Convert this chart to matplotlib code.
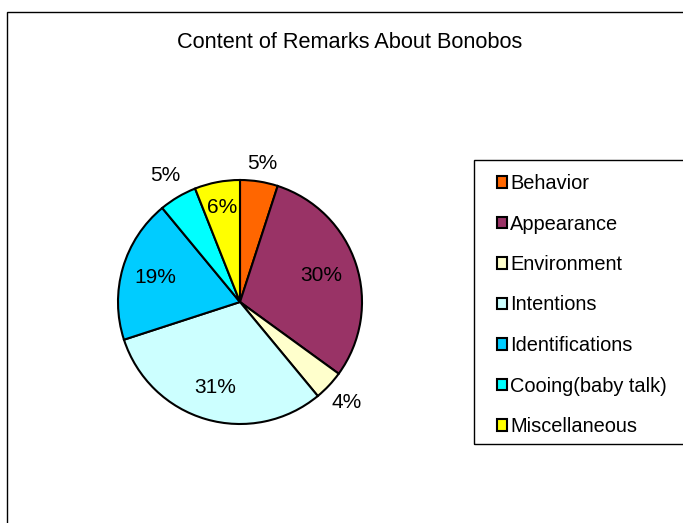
import numpy as np
import matplotlib
matplotlib.use("Agg")
import matplotlib.pyplot as plt
from matplotlib.patches import Patch, Rectangle

plt.rcParams['font.family'] = ['Liberation Sans', 'DejaVu Sans']

# Datos: contenido de los comentarios sobre bonobos (%)
categorias = ['Behavior', 'Appearance', 'Environment', 'Intentions',
              'Identifications', 'Cooing(baby talk)', 'Miscellaneous']
porcentajes = [5, 30, 4, 31, 19, 5, 6]
colores = ['#FF6600', '#993366', '#FFFFCC', '#CCFFFF',
           '#00CCFF', '#00FFFF', '#FFFF00']
# distancia de cada etiqueta al centro (fracción del radio)
dist_etiquetas = [1.15, 0.70, 1.20, 0.73, 0.72, 1.20, 0.79]

W, H = 683, 523
fig = plt.figure(figsize=(W / 100, H / 100), dpi=100)

# marco exterior del gráfico
fig.patches.append(Rectangle((7 / W, -0.1), 1.1, 1 - 12 / H + 0.1,
                             transform=fig.transFigure, fill=False,
                             edgecolor='black', linewidth=1.0))

fig.text(350 / W, 1 - 42 / H, 'Content of Remarks About Bonobos',
         ha='center', va='center', fontsize=15.7)

# --- Pastel ---
cx, cy, r = 240, 302, 122
ax = fig.add_axes([(cx - r) / W, (H - cy - r) / H, 2 * r / W, 2 * r / H])
wedges, _ = ax.pie(porcentajes, colors=colores, startangle=90,
                   counterclock=False, radius=1,
                   wedgeprops=dict(edgecolor='black', linewidth=1.5))
ax.set_xlim(-1, 1)
ax.set_ylim(-1, 1)
ax.axis('off')

for w, p, d in zip(wedges, porcentajes, dist_etiquetas):
    ang = np.deg2rad((w.theta1 + w.theta2) / 2)
    ax.text(d * np.cos(ang), d * np.sin(ang), f'{p}%',
            ha='center', va='center', fontsize=15)

# --- Leyenda ---
fig.patches.append(Rectangle((474 / W, 1 - 444 / H), 0.5, (444 - 160) / H,
                             transform=fig.transFigure, fill=False,
                             edgecolor='black', linewidth=1.0))
handles = [Patch(facecolor=c, edgecolor='black', linewidth=1.5) for c in colores]
fig.legend(handles, categorias, loc='upper left',
           bbox_to_anchor=(487 / W, 1 - 164 / H), frameon=False,
           fontsize=14.4, handlelength=0.5, handleheight=0.5,
           handletextpad=0.15, labelspacing=1.075, borderpad=0)

fig.savefig('out.png', dpi=100)
